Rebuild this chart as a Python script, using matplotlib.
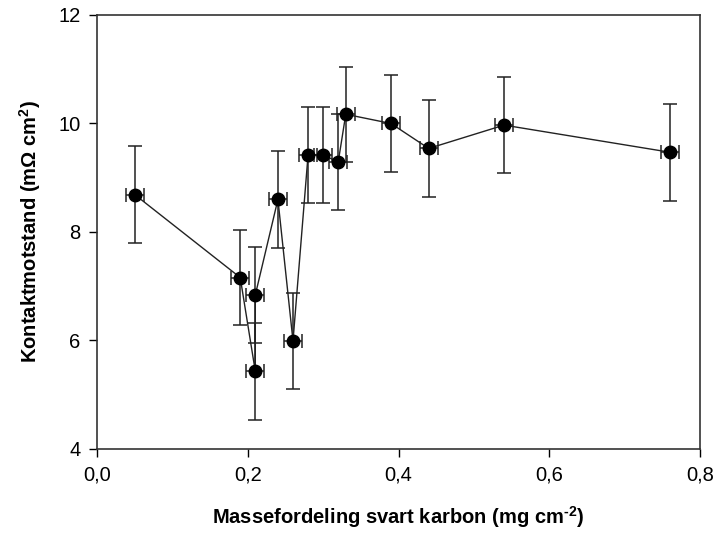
import matplotlib
matplotlib.use('Agg')
import matplotlib.pyplot as plt
from matplotlib.ticker import FuncFormatter

plt.rcParams['font.family'] = ['Liberation Sans', 'DejaVu Sans']
plt.rcParams['mathtext.fontset'] = 'custom'
plt.rcParams['mathtext.rm'] = 'Liberation Sans'
plt.rcParams['mathtext.bf'] = 'Liberation Sans:bold'

# data (in plotting order)
masse = [0.05, 0.19, 0.21, 0.21, 0.24, 0.26, 0.28, 0.30, 0.32, 0.33, 0.39, 0.44, 0.54, 0.76]
motstand = [8.69, 7.16, 5.43, 6.84, 8.60, 5.99, 9.42, 9.42, 9.29, 10.17, 10.00, 9.54, 9.97, 9.47]
motstand_err = [0.89, 0.88, 0.89, 0.88, 0.89, 0.88, 0.89, 0.89, 0.89, 0.88, 0.89, 0.89, 0.89, 0.89]
masse_err = [0.012] * len(masse)

xticks = [0.0, 0.2, 0.4, 0.6, 0.8]
yticks = [4, 6, 8, 10, 12]

fig = plt.figure(figsize=(7.16, 5.33), dpi=100)
ax = fig.add_axes([0.1355, 0.1576, 0.8422, 0.8143])

ax.plot(masse, motstand, color='#222222', lw=1.0, zorder=2)
ax.errorbar(masse, motstand, yerr=motstand_err, xerr=masse_err, fmt='o',
            color='black', ecolor='#222222', elinewidth=1.1, capsize=5,
            capthick=1.1, markersize=9, zorder=3)

ax.set_xlim(0, 0.8)
ax.set_ylim(4, 12)
ax.set_xticks(xticks)
ax.set_yticks(yticks)
ax.xaxis.set_major_formatter(FuncFormatter(lambda v, p: f'{v:.1f}'.replace('.', ',')))
ax.tick_params(direction='out', length=6, width=1, labelsize=14.5, pad=6)

for s in ax.spines.values():
    s.set_linewidth(1.2)
    s.set_color('#333333')

ax.set_xlabel('Massefordeling svart karbon (mg cm$^{\\mathbf{\u2010}\\mathbf{2}}$)', fontsize=14.5,
              fontweight='bold', labelpad=14)
ax.set_ylabel('Kontaktmotstand (m\u03a9 cm$^{\\mathbf{2}}$)', fontsize=14.5,
              fontweight='bold', labelpad=11)

fig.savefig('out.png', dpi=100)
